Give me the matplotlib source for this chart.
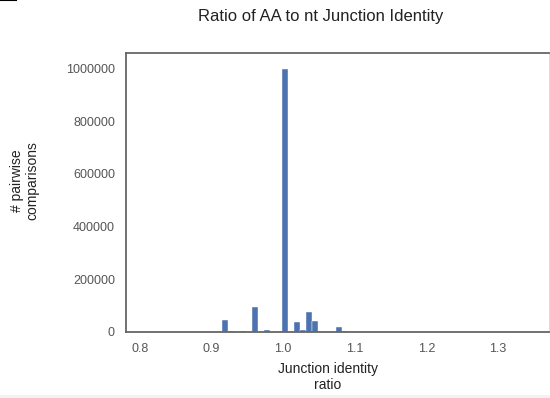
import numpy as np
import matplotlib
matplotlib.use("Agg")
import matplotlib.pyplot as plt
from matplotlib.lines import Line2D
from matplotlib.patches import Rectangle

# histogram bins (left edge, bin width, count)
bin_left = [0.914, 0.9224, 0.9392, 0.956, 0.9728, 0.998, 1.0148,
            1.0232, 1.0316, 1.040, 1.0736, 1.082, 1.124]
bin_width = 0.0084
counts = [46000, 4000, 3000, 96000, 9000, 1000000, 38000,
          6000, 77000, 42000, 19000, 4000, 1500]

xticks = [0.8, 0.9, 1.0, 1.1, 1.2, 1.3]
yticks = [0, 200000, 400000, 600000, 800000, 1000000]

plt.rcParams['font.family'] = ['Liberation Sans', 'DejaVu Sans']

fig = plt.figure(figsize=(5.5, 3.98), dpi=100)
ax = fig.add_axes([126 / 550, 1 - 332 / 398, 423 / 550, 279 / 398])

ax.bar(bin_left, counts, width=bin_width, align='edge',
       color='#4C72B0', edgecolor='white', linewidth=0.3)

ax.set_xlim(0.7804, 1.3712)
ax.set_ylim(0, 1.059e6)
ax.set_xticks(xticks)
ax.set_xticklabels([f"{t:.1f}" for t in xticks])
ax.set_yticks(yticks)
ax.set_yticklabels([str(t) for t in yticks])
ax.tick_params(length=0, labelsize=9, labelcolor='#555555', pad=8)

for name, sp in ax.spines.items():
    sp.set_color('#666666')
    sp.set_linewidth(1.3)
ax.spines['right'].set_color('#dddddd')
ax.spines['right'].set_linewidth(0.8)

fig.text(321 / 550, 1 - 17 / 398, "Ratio of AA to nt Junction Identity",
         ha='center', va='center', fontsize=12, color='#222222')
fig.text(25 / 550, 1 - 181 / 398, "# pairwise\ncomparisons", rotation=90,
         ha='center', va='center', fontsize=10, color='#222222',
         linespacing=1.1)
fig.text(328 / 550, 1 - 377 / 398, "Junction identity\nratio",
         ha='center', va='center', fontsize=10, color='#222222',
         linespacing=1.1)

# small artifacts in the screenshot
fig.add_artist(Line2D([0, 16 / 550], [0.999, 0.999], color='black', lw=1.5))
fig.add_artist(Rectangle((0, 0), 1, 3 / 398, color='#f2f2f2', lw=0))

fig.savefig("out.png", dpi=100)
